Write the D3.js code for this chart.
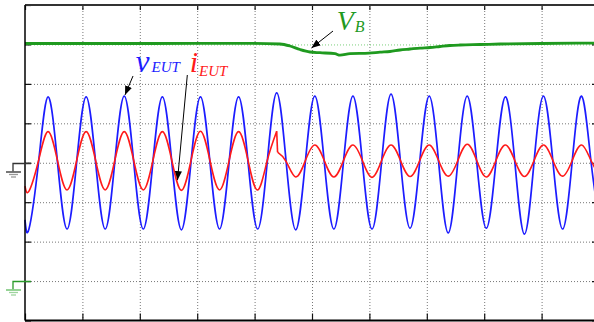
<!DOCTYPE html>
<html>
<head>
<meta charset="utf-8">
<script src="https://cdn.jsdelivr.net/npm/d3@7"></script>
<style>
html, body { margin: 0; padding: 0; background: #fff; }
svg { display: block; }
</style>
</head>
<body>
<svg id="chart" width="594" height="322"></svg>
<script>
// time and amplitude both in screen divisions (10 x 8 graticule)
var tq = [0, 0.069, 0.235, 0.401, 0.567, 0.733, 0.899, 1.065, 1.231, 1.397, 1.563,
  1.729, 1.895, 2.061, 2.227, 2.393, 2.559, 2.725, 2.891, 3.057, 3.223, 3.389, 3.555,
  3.721, 3.887, 4.053, 4.219, 4.385, 4.551, 4.717, 4.883, 5.049, 5.215, 5.381, 5.547,
  5.713, 5.879, 6.045, 6.211, 6.377, 6.543, 6.709, 6.875, 7.041, 7.207, 7.373, 7.539,
  7.705, 7.871, 8.037, 8.203, 8.369, 8.535, 8.701, 8.867, 9.033, 9.199, 9.365, 9.531,
  9.697, 9.863, 10.029];

var vEut = [-1.45, -1.68, 0, 1.67, 0, -1.68, 0, 1.67, 0, -1.68, 0,
  1.69, 0, -1.68, 0, 1.67, 0, -1.70, 0, 1.67, 0, -1.68, 0,
  1.67, 0, -1.68, 0, 1.77, 0, -1.70, 0, 1.69, 0, -1.68, 0,
  1.69, 0, -1.68, 0, 1.74, 0, -1.66, 0, 1.69, 0, -1.78, 0,
  1.69, 0, -1.66, 0, 1.67, 0, -1.81, 0, 1.69, 0, -1.68, 0,
  1.69, 0, -1.68];

var iEut = [-0.59, -0.72, 0.05, 0.79, 0.05, -0.69, 0.05, 0.79, 0.05, -0.69, 0.05,
  0.79, 0.05, -0.69, 0.05, 0.79, 0.05, -0.70, 0.05, 0.80, 0.05, -0.69, 0.05,
  0.79, 0.05, -0.69, 0.05, 0.80, 0.03, -0.36, 0.05, 0.45, 0.05, -0.36, 0.05,
  0.45, 0.05, -0.37, 0.05, 0.45, 0.05, -0.35, 0.05, 0.45, 0.05, -0.34, 0.05,
  0.47, 0.05, -0.36, 0.05, 0.45, 0.05, -0.35, 0.05, 0.45, 0.05, -0.34, 0.05,
  0.45, 0.05, -0.36];

// current amplitude drops right after this peak
var iStepIndex = 27;
var iStep = [4.40, 0.27];

var vbT = [0, 2.178, 3.920, 4.443, 4.617, 4.791, 4.965, 5.139, 5.401, 5.488, 5.662,
  5.993, 6.185, 6.359, 6.533, 6.707, 6.882, 7.056, 7.230, 7.404, 7.578, 7.927,
  8.275, 8.990, 10];
var vbV = [3.024, 3.024, 3.029, 3.011, 2.960, 2.871, 2.808, 2.790, 2.765, 2.727, 2.765,
  2.778, 2.803, 2.821, 2.859, 2.884, 2.909, 2.922, 2.948, 2.973, 2.986, 2.998,
  3.011, 3.024, 3.036];

var xTicks = [0, 1, 2, 3, 4, 5, 6, 7, 8, 9, 10];
var yTicks = [-4, -3, -2, -1, 0, 1, 2, 3, 4];

var blue = "#1c1cff", red = "#ff1a1a", green = "#1f9a1f";

var svg = d3.select("#chart");

var x = d3.scaleLinear().domain([0, 10]).range([25, 599]);
var y = d3.scaleLinear().domain([-4, 4]).range([320.5, 5]);

svg.append("defs").append("marker")
  .attr("id", "head")
  .attr("viewBox", "0 0 10 10")
  .attr("refX", 10).attr("refY", 5)
  .attr("markerWidth", 9).attr("markerHeight", 9)
  .attr("markerUnits", "userSpaceOnUse")
  .attr("orient", "auto")
  .append("path")
  .attr("d", "M0,1 L10,5 L0,9 Z")
  .attr("fill", "#000");

// graticule
var grid = svg.append("g");
grid.selectAll("line.vg")
  .data(xTicks.slice(1, -1))
  .enter().append("line")
  .attr("class", "vg")
  .attr("x1", function (d) { return x(d) + 0.5; })
  .attr("x2", function (d) { return x(d) + 0.5; })
  .attr("y1", y(4)).attr("y2", y(-4))
  .attr("stroke", "#777")
  .attr("stroke-dasharray", "1,2");

grid.selectAll("line.hg")
  .data(yTicks.slice(1, -1))
  .enter().append("line")
  .attr("class", "hg")
  .attr("x1", x(0)).attr("x2", x(10))
  .attr("y1", function (d) { return y(d) + 0.5; })
  .attr("y2", function (d) { return y(d) + 0.5; })
  .attr("stroke", function (d) { return d == 3 ? "#7ccf7c" : "#777"; })
  .attr("stroke-dasharray", "1,2");

// tick marks on every side of the frame
function ticks(axis, tr, size) {
  var g = svg.append("g")
    .attr("transform", tr)
    .call(axis.tickSizeInner(size).tickSizeOuter(0).tickFormat(""));
  g.select(".domain").remove();
  g.selectAll(".tick line").attr("stroke", "#111").attr("stroke-width", 1.2);
}
ticks(d3.axisTop(x).tickValues(xTicks), "translate(0," + y(4) + ")", -5);
ticks(d3.axisBottom(x).tickValues(xTicks), "translate(0," + y(-4) + ")", -7);
ticks(d3.axisLeft(y).tickValues(yTicks), "translate(" + x(0) + ",0)", -6);
ticks(d3.axisRight(y).tickValues(yTicks), "translate(" + x(10) + ",0)", -7);

// traces
var vData = tq.map(function (t, i) { return [t, vEut[i]]; });
var iData = tq.map(function (t, i) { return [t, iEut[i]]; });
var iA = iData.slice(0, iStepIndex + 1);
var iB = [iStep].concat(iData.slice(iStepIndex + 1));
var vbData = vbT.map(function (t, i) { return [t, vbV[i]]; });

var line = d3.line()
  .x(function (d) { return x(d[0]); })
  .y(function (d) { return y(d[1]); })
  .curve(d3.curveNatural);

svg.append("path").datum(vbData)
  .attr("d", line.curve(d3.curveMonotoneX))
  .attr("fill", "none").attr("stroke", green).attr("stroke-width", 2.8);

line.curve(d3.curveNatural);
svg.append("path").datum(vData)
  .attr("d", line)
  .attr("fill", "none").attr("stroke", blue).attr("stroke-width", 1.7);

svg.append("path").datum(iA)
  .attr("d", line)
  .attr("fill", "none").attr("stroke", red).attr("stroke-width", 1.6);
svg.append("path").datum([iData[iStepIndex], iStep])
  .attr("d", d3.line().x(function (d) { return x(d[0]); }).y(function (d) { return y(d[1]); }))
  .attr("fill", "none").attr("stroke", red).attr("stroke-width", 1.6);
svg.append("path").datum(iB)
  .attr("d", line)
  .attr("fill", "none").attr("stroke", red).attr("stroke-width", 1.6);

// frame
svg.append("line").attr("x1", x(0)).attr("x2", x(10)).attr("y1", y(4)).attr("y2", y(4))
  .attr("stroke", "#333").attr("stroke-width", 2);
svg.append("line").attr("x1", x(0)).attr("x2", x(10)).attr("y1", y(-4)).attr("y2", y(-4))
  .attr("stroke", "#000").attr("stroke-width", 2);
svg.append("line").attr("x1", x(0)).attr("x2", x(0)).attr("y1", y(4)).attr("y2", y(-4))
  .attr("stroke", "#000").attr("stroke-width", 1.5);
svg.append("line").attr("x1", x(10)).attr("x2", x(10)).attr("y1", y(4)).attr("y2", y(-4))
  .attr("stroke", "#000").attr("stroke-width", 1.5);

// channel ground markers
function ground(level, c1, c2, c3) {
  var g = svg.append("g");
  var gy = Math.round(y(level)) + 0.5;
  var gx = x(0) - 12;
  g.append("path")
    .attr("d", "M" + (x(0) + 6) + "," + gy + "H" + gx + "V" + (gy + 8))
    .attr("fill", "none").attr("stroke", c1).attr("stroke-width", 1.3);
  g.append("line").attr("x1", gx - 7).attr("x2", gx + 8).attr("y1", gy + 8.5).attr("y2", gy + 8.5)
    .attr("stroke", c2).attr("stroke-width", 1.6);
  g.append("line").attr("x1", gx - 4).attr("x2", gx + 5).attr("y1", gy + 11).attr("y2", gy + 11)
    .attr("stroke", c3).attr("stroke-width", 1.3);
  g.append("line").attr("x1", gx - 2).attr("x2", gx + 3).attr("y1", gy + 13.5).attr("y2", gy + 13.5)
    .attr("stroke", c3).attr("stroke-width", 1.3);
}
ground(0, "#333", "#555", "#999");
ground(-3, "#2a9a2a", "#7cc87c", "#9ed49e");

// annotations
var serif = "'Liberation Serif', 'DejaVu Serif', serif";
function label(t, v, main, sub, color, size, subSize, gap, drop) {
  var txt = svg.append("text")
    .attr("x", x(t)).attr("y", y(v))
    .attr("fill", color)
    .style("font-family", serif)
    .style("font-style", "italic");
  txt.append("tspan").style("font-size", size + "px").text(main);
  txt.append("tspan").attr("dx", gap).attr("dy", drop)
    .style("font-size", subSize + "px")
    .text(sub);
}
label(5.43, 3.36, "V", "B", green, 28, 16, 1, 2);
label(1.93, 2.30, "v", "EUT", blue, 31, 15, 2, 0);
label(2.87, 2.30, "i", "EUT", red, 30, 15, 1, 4);

function arrow(t1, v1, t2, v2) {
  svg.append("line")
    .attr("x1", x(t1)).attr("y1", y(v1))
    .attr("x2", x(t2)).attr("y2", y(v2))
    .attr("stroke", "#000").attr("stroke-width", 1)
    .attr("marker-end", "url(#head)");
}
arrow(5.366, 3.34, 4.991, 2.91);
arrow(1.882, 2.20, 1.742, 1.72);
arrow(2.828, 2.225, 2.657, -0.44);
</script>
</body>
</html>
